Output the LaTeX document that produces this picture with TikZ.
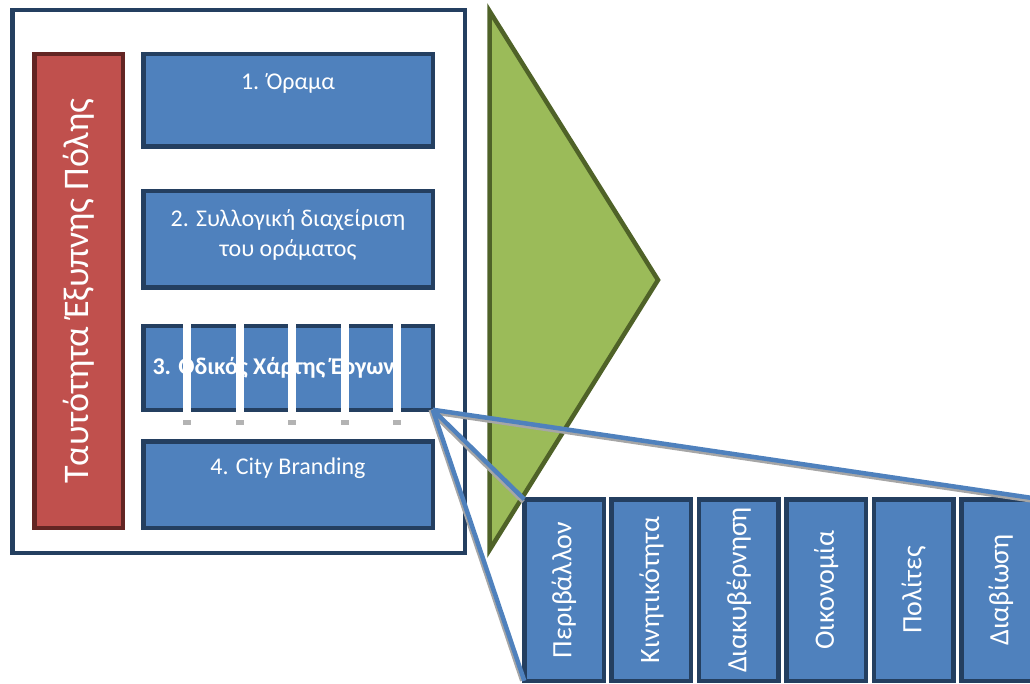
\documentclass[tikz,border=0pt]{standalone}
\usepackage{fontspec}
\setmainfont{Carlito}
\definecolor{navy}{HTML}{243F60}
\definecolor{accentblue}{HTML}{4F81BD}
\definecolor{accentred}{HTML}{C0504D}
\definecolor{darkred}{HTML}{632523}
\definecolor{accentgreen}{HTML}{9BBB59}
\definecolor{darkgreen}{HTML}{4F6228}
\definecolor{shadowgrey}{HTML}{A6A6A6}
\begin{document}
\begin{tikzpicture}[x=1pt,y=-1pt]
    \tikzstyle{frame}=[draw=navy, line width=4.5pt, outer sep=0pt]
    \tikzstyle{identity}=[draw=darkred, fill=accentred, line width=4.5pt, rotate=90,
        minimum width=473.5pt, minimum height=88.5pt, text=white,
        font=\fontsize{36}{40}\selectfont]
    \tikzstyle{pillar}=[draw=navy, fill=accentblue, line width=4.5pt, outer sep=0pt,
        minimum width=289.5pt]
    \tikzstyle{pillartext}=[text=white, font=\fontsize{24}{30}\selectfont, align=center]
    \tikzstyle{areabox}=[draw=navy, fill=accentblue, line width=4.5pt, outer sep=0pt, rotate=90,
        minimum width=181.5pt, minimum height=79.5pt, text=white,
        font=\fontsize{28}{32}\selectfont]
    \tikzstyle{wedge}=[draw=darkgreen, fill=accentgreen, line width=4.5pt]
    \tikzstyle{zoomline}=[draw=accentblue, line width=4.5pt]
    \tikzstyle{zoomshadow}=[draw=shadowgrey, line width=4.5pt]

    \clip (0,0) rectangle (1030,684);

    % outer frame
    \node[frame, minimum width=452.5pt, minimum height=542.5pt] (frame) at (238.5,281.5) {};

    % identity bar
    \node[identity] (ident) at (78.5,291) {Ταυτότητα Έξυπνης Πόλης};

    % pillars
    \node[pillar, minimum height=92.5pt] (b1) at (288,100.5) {};
    \node[pillar, minimum height=96.5pt] (b2) at (288,239.5) {};
    \node[pillar, minimum height=83.5pt] (b3) at (288,368) {};
    \node[pillar, minimum height=86.5pt] (b4) at (288,484.5) {};
    % pillar texts
    \node[pillartext] (t1) at (288,83) {1. Όραμα};
    \node[pillartext] (t2) at (288,235) {2. Συλλογική διαχείριση\\του οράματος};
    \node[pillartext, anchor=west, font=\fontsize{24}{30}\selectfont\bfseries] (t3) at (149,368) {3. Οδικός Χάρτης Έργων};
    \node[pillartext] (t4) at (288,468) {4. City Branding};

    % white bars over the road map
    \foreach \x in {187,240,292,345,397}{
        \fill[white] ({\x-4},322) rectangle ({\x+4},420);
        \fill[shadowgrey!85] ({\x-4},420) rectangle ({\x+4},425);
    }

    % green wedge
    \draw[wedge] (489.5,11) -- (658,280) -- (489.5,550) -- cycle;

    % areas
    \node[areabox] (env) at (564,590) {Περιβάλλον};
    \node[areabox] (mob) at (651.4,590) {Κινητικότητα};
    \node[areabox] (gov) at (738.8,590) {Διακυβέρνηση};
    \node[areabox] (eco) at (826.2,590) {Οικονομία};
    \node[areabox] (ppl) at (913.6,590) {Πολίτες};
    \node[areabox] (liv) at (1001,590) {Διαβίωση};

    % zoom lines
    \draw[zoomshadow] ([yshift=-2.5pt]b3.south east) -- ([yshift=-2.5pt]liv.south east);
    \draw[zoomshadow] ([yshift=-2.5pt,xshift=-1pt]b3.south east) -- ([yshift=-2.5pt,xshift=-1pt]env.north east);
    \draw[zoomshadow] ([xshift=-2pt]b3.south east) -- ([xshift=-2pt]env.north west);
    \draw[zoomline] (b3.south east) -- (liv.south east);
    \draw[zoomline] (b3.south east) -- (env.north east);
    \draw[zoomline] (b3.south east) -- (env.north west);
\end{tikzpicture}
\end{document}
